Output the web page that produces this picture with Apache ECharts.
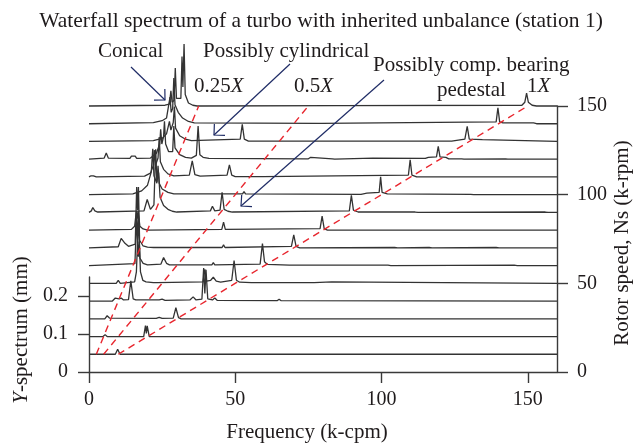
<!DOCTYPE html>
<html><head><meta charset="utf-8">
<script src="https://cdn.jsdelivr.net/npm/echarts@6/dist/echarts.min.js"></script>
<style>html,body{margin:0;padding:0;background:#fff}#c{width:639px;height:445px}</style>
</head><body><div id="c"></div>
<script>
// ---------- DATA ----------
const titleText = 'Waterfall spectrum of a turbo with inherited unbalance (station 1)';
const speeds = [10,20,30,40,50,60,70,80,90,100,110,120,130,140,150]; // rotor speed (k-rpm)
const freqTicks = [0,50,100,150];
const speedTicks = [0,50,100,150];
const ampTicks = [0,0.1,0.2];
const orders = [0.25,0.5,1];
const orderLabels = ['0.25','0.5','1'];
// each trace: [frequency (k-cpm), Y-spectrum amplitude (mm)]
const trace10 = [[0,0],[9,0],[9.8,0.013],[10.6,0],[160,0]];
const trace20 = [[0,0],[4.8,0],[5.5,0.005],[6.2,0],[18.7,0],[19.3,0.029],[19.6,0.008],[19.9,0.028],[20.6,0],[160,0]];
const trace30 = [[0,0],[5.4,0],[6.2,0.008],[7,0.002],[23,0.001],[24,0.004],[25,0.001],[28.8,0.002],[29.7,0.029],[30.6,0.003],[31.5,0],[160,0]];
const trace40 = [[0,0],[8,0],[9,0.008],[9.6,0.013],[10.3,0.006],[11,0.008],[11.8,0.003],[13.5,0.004],[14.3,0.053],[15.1,0.006],[16,0.003],[24,0.003],[25,0.005],[26,0.002],[34.5,0.003],[35.6,0.011],[36.6,0.003],[38.6,0.005],[39.2,0.087],[39.6,0.02],[40,0.082],[40.6,0.006],[42.2,0.003],[43,0.008],[43.8,0.002],[64.3,0.001],[65,0.005],[65.7,0.001],[160,0]];
const trace50 = [[0,0],[9.3,0],[10,0.008],[10.7,0],[15.6,0.004],[16.2,0.03],[16.6,0.11],[16.9,0.07],[17.2,0.11],[17.6,0.03],[18.4,0.008],[19.5,0.004],[22,0.002],[22.6,0.006],[23.2,0.002],[39,0.004],[39.6,0.037],[40.2,0.006],[41.6,0.008],[42.5,0.016],[43.5,0.006],[45,0.003],[48.8,0.008],[49.6,0.06],[50.4,0.008],[51.5,0.003],[55.5,0.002],[56,0.005],[56.5,0.002],[77,0.002],[83,0.004],[83.5,0.001],[160,0]];
const trace60 = [[0,0],[15.7,0.005],[16.3,0.13],[16.6,0.06],[16.9,0.13],[17.4,0.02],[18.5,0.006],[20,0.002],[24.6,0.004],[25.5,0.021],[26.5,0.006],[27.5,0.002],[42,0.002],[42.5,0.008],[43,0.002],[58.5,0.004],[59.3,0.058],[60,0.01],[61,0.003],[68.5,0.001],[69,0.005],[69.5,0.001],[85.5,0.001],[86,0.005],[86.5,0.001],[102.2,0.001],[102.7,0.005],[103.2,0],[145.4,0.001],[145.9,0.005],[146.4,0],[160,0]];
const trace70 = [[0,0],[10,0.003],[11,0.025],[11.5,0.029],[12.3,0.012],[13.5,0.004],[15.8,0.01],[16.3,0.16],[16.6,0.1],[16.9,0.16],[17.3,0.02],[18.5,0.005],[20,0.002],[22.1,0.001],[22.6,0.006],[23.2,0.001],[45.5,0.001],[46,0.008],[46.5,0.001],[69.2,0.004],[70,0.034],[70.8,0.004],[72,0],[104.5,0.001],[105,0.005],[105.5,0],[116.3,0.001],[116.8,0.005],[117.3,0],[139.2,0.001],[139.7,0.005],[140.2,0],[160,0]];
const trace80 = [[0,0],[14.5,0.002],[15.6,0.01],[16.2,0.05],[16.5,0.03],[16.8,0.05],[17.4,0.01],[18.5,0.003],[20,0],[45.4,0.002],[46,0.021],[46.6,0.002],[79,0.004],[79.7,0.037],[80.4,0.004],[81.5,0],[160,0]];
const trace90 = [[0,0],[0.8,0.004],[1.3,0.013],[2,0.004],[3,0.001],[18.8,0.004],[19.9,0.034],[21,0.008],[22.2,0.02],[22.8,0.166],[23.2,0.08],[23.8,0.105],[24.3,0.04],[25.5,0.018],[27,0.008],[28.5,0.003],[30,0.001],[41.5,0.004],[42.2,0.016],[43,0.004],[44.8,0.006],[45.5,0.053],[46.2,0.008],[47.5,0.003],[49,0.001],[89,0.004],[89.7,0.045],[90.4,0.006],[92,0.001],[111.5,0.001],[112,0.005],[112.5,0],[156,0.001],[156.5,0.005],[157,0],[160,0]];
const trace100 = [[0,0],[15,0.002],[18,0.01],[20,0.025],[21.3,0.06],[21.8,0.121],[22.2,0.05],[23.2,0.03],[23.6,0.076],[24,0.03],[25,0.015],[27,0.006],[29,0.002],[52.5,0.002],[53,0.008],[53.5,0.002],[93,0.001],[95,0.004],[99.2,0.006],[99.7,0.047],[100.2,0.006],[102,0.002],[130.5,0.001],[131,0.004],[131.5,0],[160,0]];
const trace110 = [[0,0],[0.7,0.003],[1,0.008],[1.5,0.003],[2.5,0],[19,0.002],[21,0.01],[22,0.03],[22.3,0.071],[22.7,0.03],[23.6,0.05],[24,0.105],[24.4,0.04],[25.5,0.02],[27,0.008],[29,0.003],[34.3,0.005],[35.3,0.042],[36.2,0.006],[38,0.002],[47.2,0.005],[48,0.032],[48.8,0.005],[50,0.001],[58.5,0.001],[59,0.005],[59.5,0.001],[109.2,0.005],[109.8,0.045],[110.4,0.005],[112,0],[160,0]];
const trace120 = [[0,0],[5.2,0.003],[5.9,0.016],[6.6,0.003],[14,0.002],[14.5,0.008],[15,0.003],[15.8,0.008],[16.3,0.002],[21,0.003],[23,0.015],[24.2,0.04],[24.5,0.079],[24.9,0.04],[25.5,0.06],[25.8,0.1],[26.2,0.04],[27.2,0.02],[28.6,0.02],[29,0.087],[29.4,0.03],[31,0.012],[33,0.005],[35,0.003],[36.7,0.01],[37.3,0.087],[37.9,0.012],[39,0.005],[41,0.002],[74.2,0.001],[74.6,0.005],[75,0.001],[75.8,0.005],[76.2,0.001],[83.2,0.001],[83.6,0.003],[84,0],[97,0.003],[97.5,0],[115,0.002],[116,0.005],[118.8,0.006],[119.4,0.034],[120,0.006],[122,0.005],[123,0.001],[127.4,0.001],[127.8,0.004],[128.2,0],[142.4,0.001],[142.8,0.004],[143.2,0],[160,0]];
const trace130 = [[0,0],[22,0.002],[25,0.008],[26.5,0.02],[27.5,0.053],[28,0.03],[28.8,0.05],[29.2,0.092],[29.6,0.035],[31,0.015],[33,0.006],[35,0.002],[51.7,0.006],[52.4,0.045],[53.1,0.006],[54.5,0.001],[124,0.001],[124.5,0.005],[128.5,0.006],[129.3,0.04],[130,0.006],[134.5,0.005],[135,0],[160,0]];
const trace140 = [[0,0],[22,0.003],[25,0.008],[26.5,0.015],[27.7,0.07],[28.1,0.03],[28.6,0.04],[29,0.12],[29.4,0.05],[30.5,0.03],[32,0.015],[34,0.006],[36,0.002],[78.5,0.001],[79,0.006],[79.5,0.001],[139.2,0.005],[139.8,0.042],[140.4,0.005],[141.5,0.002],[152,0.002],[153,0],[160,0]];
const trace150 = [[0,0],[26,0.002],[27.5,0.005],[28,0.04],[28.4,0.01],[29.1,0.015],[29.5,0.1],[29.9,0.02],[31.4,0.02],[31.8,0.13],[32.1,0.05],[32.5,0.163],[32.9,0.03],[34,0.008],[35.5,0.002],[37,0],[84.8,0.001],[85.3,0.006],[85.8,0.001],[148,0.002],[149,0.01],[149.6,0.034],[150.2,0.01],[151.5,0.002],[153,0],[160,0]];
const traces = [trace10,trace20,trace30,trace40,trace50,trace60,trace70,trace80,trace90,trace100,trace110,trace120,trace130,trace140,trace150];

// ---------- LAYOUT ----------
const W = 639, H = 445;
const PL = 89, PR = 557, PT = 106, PB = 372;
const FREQ_MAX = 160, SPEED_MAX = 150, AMP_MAX = 0.25;
const AMP_PX = 95;                       // pixel height of the 0..0.25 mm axis
const pxPerMm = AMP_PX / AMP_MAX;
const speedPerPx = SPEED_MAX / (PB - PT);
const K = pxPerMm * speedPerPx;          // mm -> rotor-speed units
const FONT = '"Liberation Serif", "DejaVu Serif", serif';
const TXT = '#1f1b1c';
const AX = '#3a3a3a';
const NAVY = '#1f2c66';

const series = [];
for (let i = traces.length - 1; i >= 0; i--) {
  const s = speeds[i];
  series.push({
    type: 'line', xAxisIndex: 0, yAxisIndex: 0, symbol: 'none', clip: false, silent: true,
    animation: false, z: 2,
    data: traces[i].map(p => [p[0], s + p[1] * K]),
    lineStyle: { color: '#333', width: 1.3 },
    areaStyle: { color: '#fff', opacity: 1, origin: 'start' }
  });
}
orders.forEach(o => {
  series.push({
    type: 'line', xAxisIndex: 0, yAxisIndex: 0, symbol: 'none', clip: false, silent: true,
    animation: false, z: 6,
    data: [[o * speeds[0], speeds[0]], [o * speeds[speeds.length - 1], speeds[speeds.length - 1]]],
    lineStyle: { color: '#e8262e', width: 1.4, type: [7, 5] }
  });
});

function arrow(x0, y0, x1, y1) {
  const a = Math.atan2(y0 - y1, x0 - x1), L = 11, sp = Math.PI / 4;
  return [
    { type: 'line', shape: { x1: x0, y1: y0, x2: x1, y2: y1 }, style: { stroke: NAVY, lineWidth: 1.2 }, z: 100 },
    { type: 'polyline', shape: { points: [[x1 + L * Math.cos(a + sp), y1 + L * Math.sin(a + sp)], [x1, y1], [x1 + L * Math.cos(a - sp), y1 + L * Math.sin(a - sp)]] }, style: { stroke: NAVY, lineWidth: 1.2, fill: null }, z: 100 }
  ];
}
function txt(x, y, text, opts) {
  return { type: 'text', x, y, z: 100, style: Object.assign({ text, fill: TXT, font: '21px ' + FONT, align: 'left', verticalAlign: 'middle' }, opts || {}) };
}
const rich = { n: { fontSize: 21, fontFamily: FONT, fill: TXT }, i: { fontSize: 21, fontFamily: FONT, fontStyle: 'italic', fill: TXT } };
function orderTxt(x, y, label) {
  return { type: 'text', x, y, z: 100, style: { text: '{n|' + label + '}{i|X}', rich, fill: TXT, align: 'left', verticalAlign: 'middle', font: '21px ' + FONT } };
}

const graphic = [
  txt(321, 21, titleText, { align: 'center', font: '21.5px ' + FONT }),
  txt(98, 51, 'Conical'),
  txt(203, 51, 'Possibly cylindrical'),
  txt(373, 65, 'Possibly comp. bearing'),
  txt(437, 90, 'pedestal'),
  orderTxt(194, 86, orderLabels[0]),
  orderTxt(294, 86, orderLabels[1]),
  orderTxt(527, 86, orderLabels[2]),
  txt(307, 432, 'Frequency (k-cpm)', { align: 'center' }),
  { type: 'text', x: 21, y: 330, rotation: Math.PI / 2, z: 100, style: { text: '{i|Y}{n|-spectrum (mm)}', rich, fill: TXT, align: 'center', verticalAlign: 'middle', font: '21px ' + FONT } },
  { type: 'text', x: 622, y: 243, rotation: Math.PI / 2, z: 100, style: { text: 'Rotor speed, Ns (k-rpm)', fill: TXT, align: 'center', verticalAlign: 'middle', font: '21px ' + FONT } },
  ...arrow(131, 67, 165, 100),
  ...arrow(290, 64, 214, 135),
  ...arrow(384, 80, 241, 206)
];

const axisLabelStyle = { color: TXT, fontSize: 20, fontFamily: FONT };
const option = {
  animation: false,
  backgroundColor: '#fff',
  grid: [
    { left: PL, top: PT, width: PR - PL, height: PB - PT },
    { left: PL, top: PB - AMP_PX, width: PR - PL, height: AMP_PX }
  ],
  xAxis: [
    { gridIndex: 0, type: 'value', min: 0, max: FREQ_MAX, z: 8,
      axisLine: { show: true, onZero: false, lineStyle: { color: AX, width: 1.4 } },
      axisTick: { show: true, length: 11, customValues: freqTicks, lineStyle: { color: AX, width: 1.4 } },
      axisLabel: Object.assign({ customValues: freqTicks, margin: 18 }, axisLabelStyle),
      splitLine: { show: false } },
    { gridIndex: 1, type: 'value', min: 0, max: FREQ_MAX, show: false,
      axisLine: { show: false, onZero: false } }
  ],
  yAxis: [
    { gridIndex: 0, type: 'value', position: 'right', min: 0, max: SPEED_MAX, z: 8,
      axisLine: { show: true, onZero: false, lineStyle: { color: AX, width: 1.4 } },
      axisTick: { show: true, length: 11, customValues: speedTicks, lineStyle: { color: AX, width: 1.4 } },
      axisLabel: Object.assign({ customValues: speedTicks, margin: 20 }, axisLabelStyle),
      splitLine: { show: false } },
    { gridIndex: 1, type: 'value', position: 'left', min: 0, max: AMP_MAX, z: 8,
      axisLine: { show: true, onZero: false, lineStyle: { color: AX, width: 1.4 } },
      axisTick: { show: true, length: 11, customValues: ampTicks, lineStyle: { color: AX, width: 1.4 } },
      axisLabel: Object.assign({ customValues: ampTicks, margin: 21, formatter: v => v === 0 ? '0' : v.toFixed(1) }, axisLabelStyle),
      splitLine: { show: false } }
  ],
  series,
  graphic
};
const chart = echarts.init(document.getElementById('c'), null, { renderer: 'canvas', width: W, height: H });
chart.setOption(option);
</script>
</body></html>
